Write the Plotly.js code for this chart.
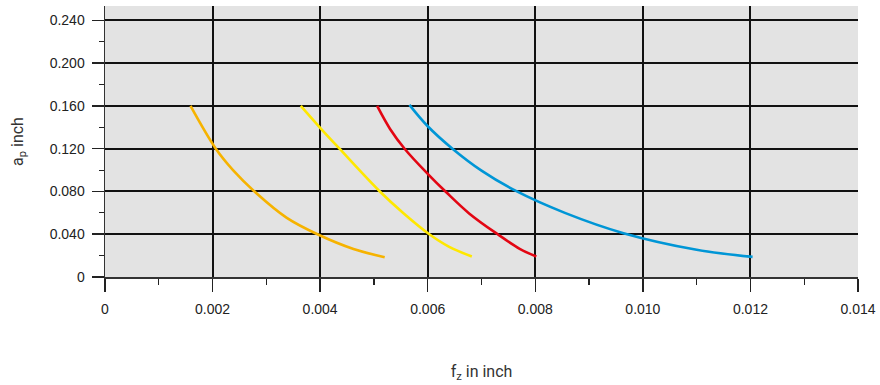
<!DOCTYPE html>
<html><head><meta charset="utf-8">
<script src="https://cdn.plot.ly/plotly-3.0.1.min.js"></script>
<style>html,body{margin:0;padding:0;background:#fff}#c{width:880px;height:385px}</style>
</head><body><div id="c"></div>
<script>
const orangeX = [0.00159, 0.00206, 0.00238, 0.00280, 0.00338, 0.00397, 0.00462, 0.00520];
const orangeY = [0.160, 0.120, 0.100, 0.0790, 0.0553, 0.0395, 0.0262, 0.0185];
const yellowX = [0.00364, 0.00400, 0.00436, 0.00511, 0.00556, 0.00603, 0.00640, 0.00682];
const yellowY = [0.160, 0.1395, 0.120, 0.080, 0.0592, 0.040, 0.0282, 0.0192];
const redX = [0.00506, 0.00530, 0.00557, 0.00600, 0.00634, 0.00677, 0.00730, 0.00771, 0.00802];
const redY = [0.160, 0.1385, 0.120, 0.0965, 0.0795, 0.0595, 0.040, 0.0264, 0.0192];
const blueX = [0.00566, 0.00600, 0.00646, 0.00700, 0.00764, 0.00855, 0.00964, 0.01100, 0.01204];
const blueY = [0.161, 0.141, 0.120, 0.0995, 0.0805, 0.060, 0.041, 0.0255, 0.0188];
const xTickVals = [0, 0.002, 0.004, 0.006, 0.008, 0.010, 0.012, 0.014];
const xTickText = ["0", "0.002", "0.004", "0.006", "0.008", "0.010", "0.012", "0.014"];
const yTickVals = [0, 0.04, 0.08, 0.12, 0.16, 0.20, 0.24];
const yTickText = ["0", "0.040", "0.080", "0.120", "0.160", "0.200", "0.240"];

const mk = (x, y, c) => ({x, y, type: 'scatter', mode: 'lines', line: {color: c, width: 2.6, shape: 'spline', smoothing: 1}, hoverinfo: 'none'});
const data = [
  mk(orangeX, orangeY, '#f6b300'),
  mk(yellowX, yellowY, '#ffe800'),
  mk(redX, redY, '#e30613'),
  mk(blueX, blueY, '#0096d6')
];
const tickFont = {family: '"Liberation Sans", Arial, sans-serif', size: 14, color: '#222'};
const titleFont = {family: 'Roboto, "Liberation Sans", sans-serif', size: 16, color: '#333'};
const layout = {
  width: 880, height: 385,
  font: {family: '"Liberation Sans", Arial, sans-serif', size: 14, color: '#222'},
  margin: {l: 105, r: 22, t: 6, b: 108},
  paper_bgcolor: '#fff', plot_bgcolor: '#e3e3e3',
  showlegend: false,
  xaxis: {
    range: [0, 0.014], tickvals: xTickVals, ticktext: xTickText,
    ticks: 'outside', ticklen: 13, tickwidth: 1.5, tickcolor: '#222',
    ticklabelstandoff: 6,
    minor: {dtick: 0.001, ticks: 'outside', ticklen: 6, tickwidth: 1.2, tickcolor: '#222', showgrid: false},
    showgrid: true, gridcolor: '#111', gridwidth: 2,
    showline: true, linecolor: '#333', linewidth: 1.5,
    zeroline: false, tickfont: tickFont, fixedrange: true,
    title: {text: 'f<sub>z</sub> in inch', font: titleFont, standoff: 49}
  },
  yaxis: {
    range: [0, 0.2535], tickvals: yTickVals, ticktext: yTickText,
    ticks: 'outside', ticklen: 12, tickwidth: 1.5, tickcolor: '#222',
    ticklabelstandoff: 4,
    minor: {dtick: 0.02, ticks: 'outside', ticklen: 5, tickwidth: 1.2, tickcolor: '#222', showgrid: false},
    showgrid: true, gridcolor: '#111', gridwidth: 2,
    showline: true, linecolor: '#333', linewidth: 1.5,
    zeroline: false, tickfont: tickFont, fixedrange: true,
    title: {text: 'a<sub>p</sub> inch', font: titleFont, standoff: 22}
  }
};
Plotly.newPlot('c', data, layout, {displayModeBar: false, staticPlot: true});
</script></body></html>
